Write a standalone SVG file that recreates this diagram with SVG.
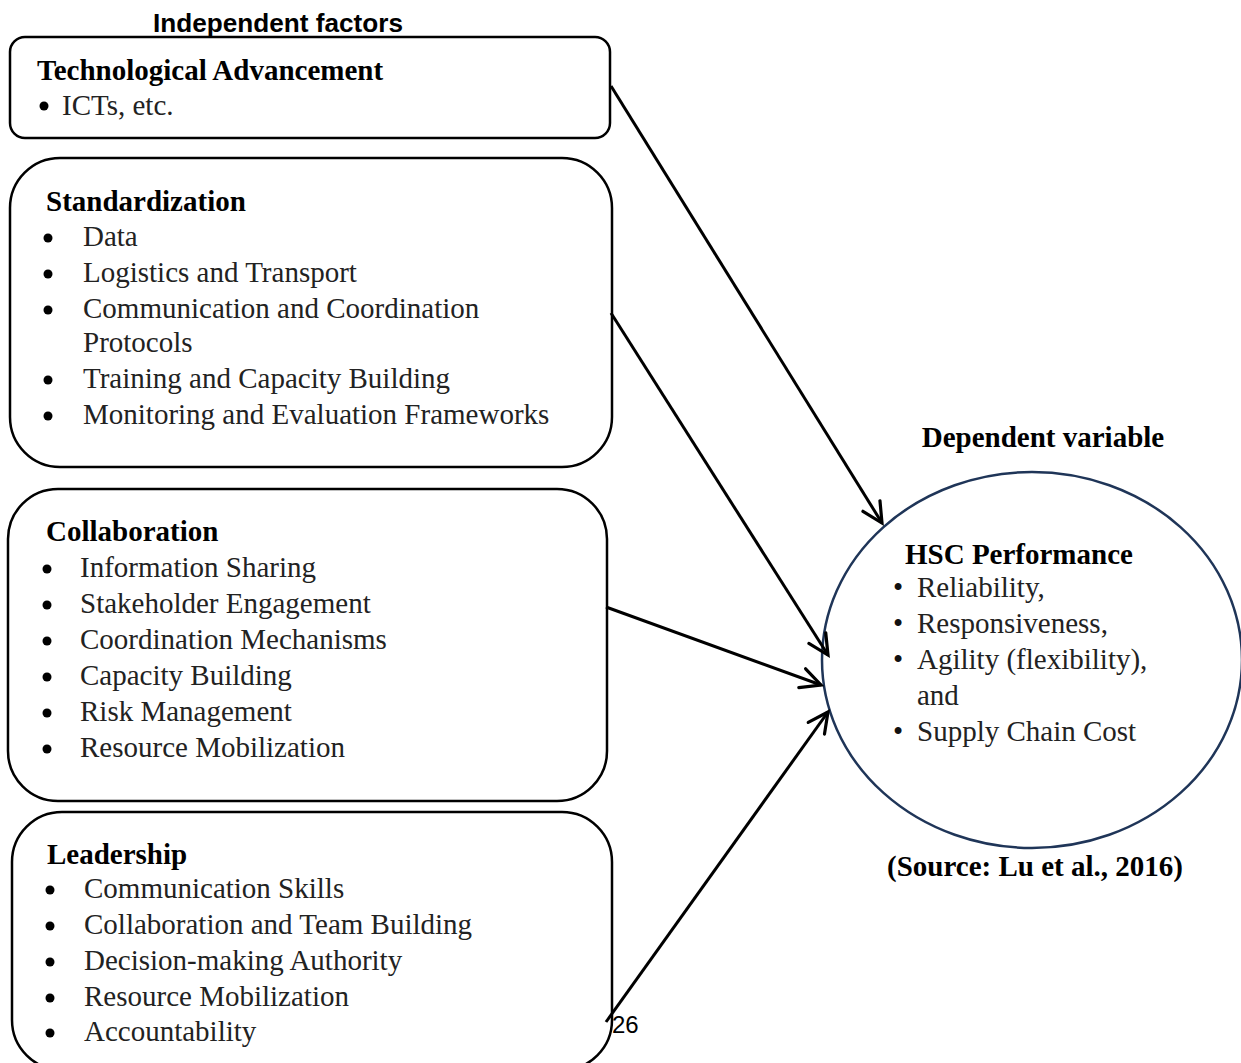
<svg xmlns="http://www.w3.org/2000/svg" width="1241" height="1063" viewBox="0 0 1241 1063">
<style>
.box{fill:#fff;stroke:#000;stroke-width:2.5}
.h{font-family:"Liberation Serif","Times New Roman",serif;font-weight:bold;font-size:29px;fill:#000}
.t{font-family:"Liberation Serif","Times New Roman",serif;font-size:29px;fill:#222}
.b{font-family:"Liberation Serif","Times New Roman",serif;font-size:29px;fill:#111}
.dot{fill:#000}
.con{stroke:#000;stroke-width:3;fill:none;marker-end:url(#ah)}
.cal{font-family:"Liberation Sans Narrow","Liberation Sans",sans-serif;font-size:25px;fill:#000}
</style>
<defs>
<marker id="ah" markerUnits="userSpaceOnUse" markerWidth="26" markerHeight="26" refX="22" refY="12" orient="auto" viewBox="0 0 26 24">
<path d="M2,2 L22,12 L2,22" fill="none" stroke="#000" stroke-width="3.2" stroke-linecap="round" stroke-linejoin="miter"/>
</marker>
</defs>
<rect width="1241" height="1063" fill="#fff"/>

<text class="cal" x="153" y="32" font-weight="bold" textLength="250" lengthAdjust="spacingAndGlyphs">Independent factors</text>

<g id="tech">
<rect class="box" x="10" y="37" width="600" height="101" rx="15"/>
<text class="h" x="37" y="80">Technological Advancement</text>
<circle class="dot" cx="44" cy="106" r="4.5"/>
<text class="t" x="62" y="115">ICTs, etc.</text>
</g>

<g id="standardization">
<rect class="box" x="10" y="158" width="602" height="309" rx="50"/>
<text class="h" x="46" y="211">Standardization</text>
<g class="dot"><circle cx="48" cy="238" r="4.5"/><circle cx="48" cy="274" r="4.5"/><circle cx="48" cy="310" r="4.5"/><circle cx="48" cy="380" r="4.5"/><circle cx="48" cy="416" r="4.5"/></g>
<g class="t">
<text x="83" y="246">Data</text>
<text x="83" y="282">Logistics and Transport</text>
<text x="83" y="318">Communication and Coordination</text>
<text x="83" y="352">Protocols</text>
<text x="83" y="388">Training and Capacity Building</text>
<text x="83" y="424">Monitoring and Evaluation Frameworks</text>
</g>
</g>

<g id="collaboration">
<rect class="box" x="8" y="489" width="599" height="312" rx="50"/>
<text class="h" x="46" y="541">Collaboration</text>
<g class="dot"><circle cx="47" cy="569" r="4.5"/><circle cx="47" cy="605" r="4.5"/><circle cx="47" cy="641" r="4.5"/><circle cx="47" cy="677" r="4.5"/><circle cx="47" cy="713" r="4.5"/><circle cx="47" cy="749" r="4.5"/></g>
<g class="t">
<text x="80" y="577">Information Sharing</text>
<text x="80" y="613">Stakeholder Engagement</text>
<text x="80" y="649">Coordination Mechanisms</text>
<text x="80" y="685">Capacity Building</text>
<text x="80" y="721">Risk Management</text>
<text x="80" y="757">Resource Mobilization</text>
</g>
</g>

<g id="leadership">
<rect class="box" x="12" y="812" width="600" height="258" rx="50"/>
<text class="h" x="47" y="864">Leadership</text>
<g class="dot"><circle cx="50" cy="890" r="4.5"/><circle cx="50" cy="926" r="4.5"/><circle cx="50" cy="962" r="4.5"/><circle cx="50" cy="998" r="4.5"/><circle cx="50" cy="1033" r="4.5"/></g>
<g class="t">
<text x="84" y="898">Communication Skills</text>
<text x="84" y="934">Collaboration and Team Building</text>
<text x="84" y="970">Decision-making Authority</text>
<text x="84" y="1006">Resource Mobilization</text>
<text x="84" y="1041">Accountability</text>
</g>
</g>

<text class="h" x="1043" y="447" text-anchor="middle">Dependent variable</text>

<g id="hsc">
<ellipse cx="1032" cy="660" rx="210" ry="188" fill="#fff" stroke="#1F3558" stroke-width="2.5"/>
<text class="h" x="905" y="564">HSC Performance</text>
<g class="b"><text x="893" y="597">•</text><text x="893" y="633">•</text><text x="893" y="669">•</text><text x="893" y="741">•</text></g>
<g class="t">
<text x="917" y="597">Reliability,</text>
<text x="917" y="633">Responsiveness,</text>
<text x="917" y="669">Agility (flexibility),</text>
<text x="917" y="705">and</text>
<text x="917" y="741">Supply Chain Cost</text>
</g>
</g>

<text class="h" x="1035" y="876" text-anchor="middle">(Source: Lu et al., 2016)</text>

<g id="connectors">
<line class="con" x1="611" y1="86" x2="882" y2="523"/>
<line class="con" x1="611" y1="313" x2="828" y2="655"/>
<line class="con" x1="606" y1="607" x2="821" y2="685"/>
<line class="con" x1="606" y1="1022" x2="828" y2="712"/>
</g>

<text x="612" y="1033" font-family="'Liberation Sans',sans-serif" font-size="24" fill="#000">26</text>
</svg>
